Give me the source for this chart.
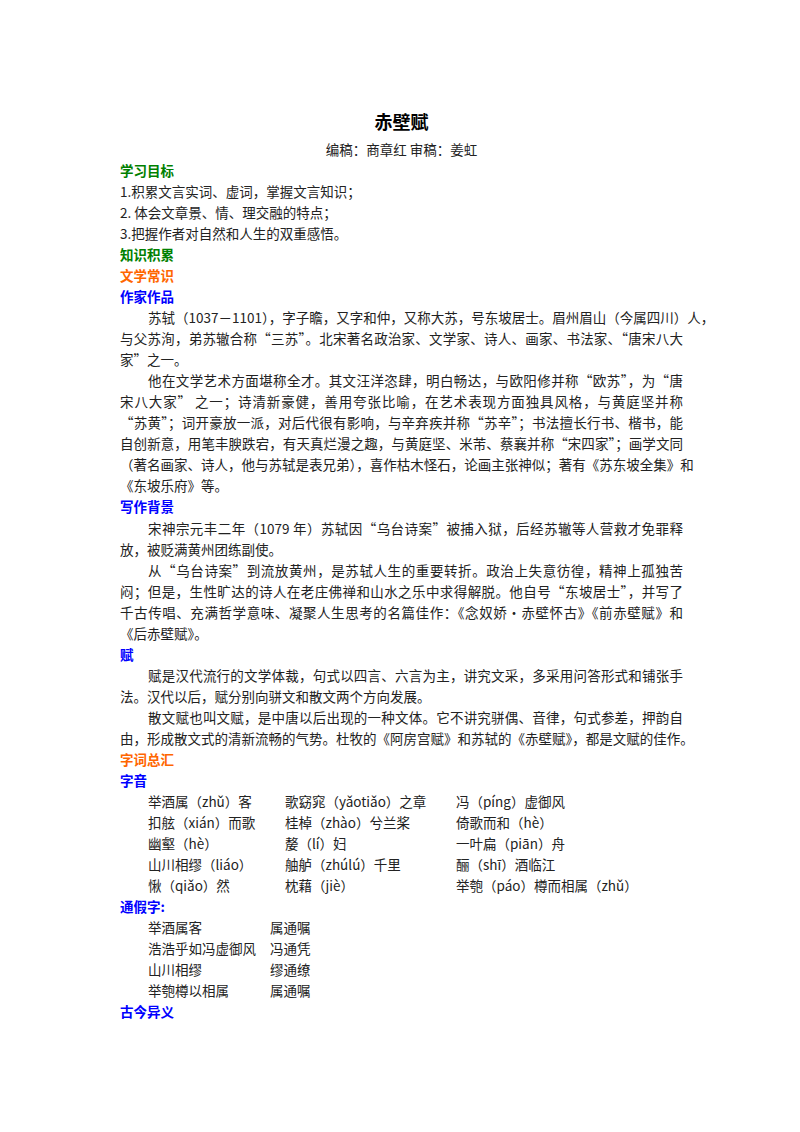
<!DOCTYPE html>
<html><head><meta charset="utf-8">
<script src="https://cdn.jsdelivr.net/npm/chart.js@4"></script>
<style>
body{margin:0;background:#fff;width:800px;height:1132px;position:relative;font-family:"Noto Sans CJK SC",sans-serif;color:#222;}
.l{position:absolute;left:120px;width:563px;font-size:13.5px;line-height:21px;height:21px;white-space:nowrap;}
.j{text-align:justify;text-align-last:justify;}
.h{font-weight:bold;}
.g{color:#008000}.o{color:#ff6600}.b{color:#0000ff}
.c{position:absolute;font-size:13.5px;line-height:21px;white-space:nowrap;}
</style></head><body>
<div id="page"></div>
<script>
const headings = [
  ["学习目标","g"],["知识积累","g"],["文学常识","o"],["作家作品","b"],["写作背景","b"],["赋","b"],["字词总汇","o"],["字音","b"],["通假字:","b"],["古今异义","b"]
];
const bodyLines = [
 ["h","学习目标","g"],
 ["t","1.积累文言实词、虚词，掌握文言知识；"],
 ["t","2.  体会文章景、情、理交融的特点；"],
 ["t","3.把握作者对自然和人生的双重感悟。"],
 ["h","知识积累","g"],
 ["h","文学常识","o"],
 ["h","作家作品","b"],
 ["p","苏轼（1037－1101），字子瞻，又字和仲，又称大苏，号东坡居士。眉州眉山（今属四川）人，"],
 ["j","与父苏洵，弟苏辙合称“三苏”。北宋著名政治家、文学家、诗人、画家、书法家、“唐宋八大"],
 ["t","家”之一。"],
 ["p","他在文学艺术方面堪称全才。其文汪洋恣肆，明白畅达，与欧阳修并称“欧苏”，为“唐"],
 ["j","宋八大家” 之一；诗清新豪健，善用夸张比喻，在艺术表现方面独具风格，与黄庭坚并称"],
 ["j","“苏黄”；词开豪放一派，对后代很有影响，与辛弃疾并称“苏辛”；书法擅长行书、楷书，能"],
 ["j","自创新意，用笔丰腴跌宕，有天真烂漫之趣，与黄庭坚、米芾、蔡襄并称“宋四家”；画学文同"],
 ["j","（著名画家、诗人，他与苏轼是表兄弟），喜作枯木怪石，论画主张神似；著有《苏东坡全集》和"],
 ["t","《东坡乐府》等。"],
 ["h","写作背景","b"],
 ["p","宋神宗元丰二年（1079 年）苏轼因“乌台诗案”被捕入狱，后经苏辙等人营救才免罪释"],
 ["t","放，被贬满黄州团练副使。"],
 ["p","从“乌台诗案”到流放黄州，是苏轼人生的重要转折。政治上失意彷徨，精神上孤独苦"],
 ["j","闷；但是，生性旷达的诗人在老庄佛禅和山水之乐中求得解脱。他自号“东坡居士”，并写了"],
 ["j","千古传唱、充满哲学意味、凝聚人生思考的名篇佳作：《念奴娇·赤壁怀古》《前赤壁赋》和"],
 ["t","《后赤壁赋》。"],
 ["h","赋","b"],
 ["p","赋是汉代流行的文学体裁，句式以四言、六言为主，讲究文采，多采用问答形式和铺张手"],
 ["t","法。汉代以后，赋分别向骈文和散文两个方向发展。"],
 ["p","散文赋也叫文赋，是中唐以后出现的一种文体。它不讲究骈偶、音律，句式参差，押韵自"],
 ["j","由，形成散文式的清新流畅的气势。杜牧的《阿房宫赋》和苏轼的《赤壁赋》，都是文赋的佳作。"],
 ["h","字词总汇","o"],
 ["h","字音","b"]
];
const ziyinCol1 = ["举酒属（zhǔ）客","扣舷（xián）而歌","幽壑（hè）","山川相缪（liáo）","愀（qiǎo）然"];
const ziyinCol2 = ["歌窈窕（yǎotiǎo）之章","桂棹（zhào）兮兰桨","嫠（lí）妇","舳舻（zhúlú）千里","枕藉（jiè）"];
const ziyinCol3 = ["冯（píng）虚御风","倚歌而和（hè）","一叶扁（piān）舟","酾（shī）酒临江","举匏（páo）樽而相属（zhǔ）"];
const tjWords = ["举酒属客","浩浩乎如冯虚御风","山川相缪","举匏樽以相属"];
const tjNotes = ["属通嘱","冯通凭","缪通缭","属通嘱"];

const page=document.getElementById('page');
function add(cls,txt,top,left,w){const d=document.createElement('div');d.className=cls;d.textContent=txt;d.style.top=top+'px';if(left!=null)d.style.left=left+'px';if(w!=null)d.style.width=w+'px';page.appendChild(d);return d;}
const t=add('l h','赤壁赋',108,120);t.style.textAlign='center';t.style.fontSize='18px';t.style.height='26px';t.style.lineHeight='26px';t.style.color='#000';
const s=add('l','编稿：商章红 审稿：姜虹',139,120);s.style.textAlign='center';
let y=160;const step=21.03;
bodyLines.forEach((ln,i)=>{
  const top=y+i*step;
  if(ln[0]==='h') add('l h '+ln[2],ln[1],top);
  else if(ln[0]==='p'){const d=add('l j',ln[1],top,148,535);}
  else if(ln[0]==='j') add('l j',ln[1],top);
  else add('l',ln[1],top);
});
let yy=y+bodyLines.length*step;
for(let i=0;i<5;i++){add('c',ziyinCol1[i],yy+i*step,148);add('c',ziyinCol2[i],yy+i*step,285);add('c',ziyinCol3[i],yy+i*step,456);}
yy+=5*step;
add('l h b','通假字:',yy);yy+=step;
for(let i=0;i<4;i++){add('c',tjWords[i],yy+i*step,148);add('c',tjNotes[i],yy+i*step,270);}
yy+=4*step;
add('l h b','古今异义',yy);
</script>
</body></html>
